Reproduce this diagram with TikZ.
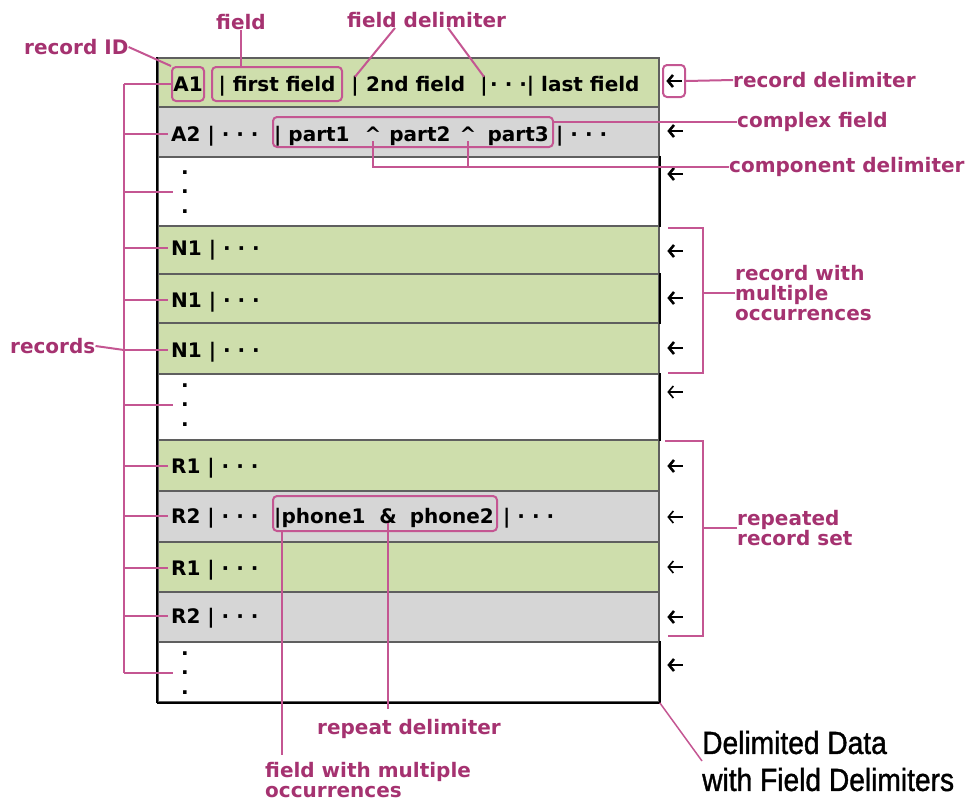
\documentclass[tikz,border=0pt]{standalone}
\usepackage{fontspec}
\usepackage{xcolor}
\usepackage{tikz}
\usetikzlibrary{arrows.meta}
\newfontfamily\dejavu{DejaVu Sans}
\newfontfamily\arialike[FakeStretch=0.88, FakeBold=1.2]{Liberation Sans}
\newcommand{\lblfont}{\dejavu\bfseries\fontsize{20}{20}\selectfont}
\definecolor{lblpink}{RGB}{165,50,112}
\definecolor{linepink}{RGB}{196,86,146}
\definecolor{rowgreen}{RGB}{206,222,172}
\definecolor{rowgray}{RGB}{214,214,214}
\definecolor{sepgray}{RGB}{95,95,95}

\begin{document}
\begin{tikzpicture}[x=1pt, y=-1pt,
  row/.style={draw=sepgray, line width=1.5pt, fill=#1, minimum width=501pt, inner sep=0pt},
  row/.default=white,
  txt/.style={font=\lblfont, inner sep=0pt, text height=14pt, text depth=0pt},
  rid/.style={txt, anchor=base west, inner xsep=3pt},
  hbox/.style={draw=linepink, line width=2pt, rounded corners=4pt, inner sep=0pt},
  lbl/.style={font=\lblfont, text=lblpink, inner sep=0pt, align=left},
  conn/.style={draw=linepink, line width=2pt},
  arrline/.style={line width=#1, -{Straight Barb[length=5pt, width=12pt]}},
  arrline/.default=2.6pt,
  arr/.style={minimum width=15pt, minimum height=12pt, inner sep=0pt,
              append after command={(\tikzlastnode.east) edge[arrline=#1] (\tikzlastnode.west)}},
  arr/.default=2.6pt,
  vdots/.style={font=\dejavu\bfseries\fontsize{20}{19.5}\selectfont, align=center,
                inner xsep=8pt, inner ysep=0pt},
]
\useasboundingbox (0,0) rectangle (979,801);

% Строки таблицы
\node[row=rowgreen, minimum height=49pt] (row1) at (408.5,82.5) {};
\node[row=rowgray,  minimum height=50pt] (row2) at (408.5,132) {};
\node[row,          minimum height=69pt] (row3) at (408.5,191.5) {};
\node[row=rowgreen, minimum height=48pt] (row4) at (408.5,250) {};
\node[row=rowgreen, minimum height=49pt] (row5) at (408.5,298.5) {};
\node[row=rowgreen, minimum height=51pt] (row6) at (408.5,348.5) {};
\node[row,          minimum height=66pt] (row7) at (408.5,407) {};
\node[row=rowgreen, minimum height=51pt] (row8) at (408.5,465.5) {};
\node[row=rowgray,  minimum height=51pt] (row9) at (408.5,516.5) {};
\node[row=rowgreen, minimum height=50pt] (row10) at (408.5,567) {};
\node[row=rowgray,  minimum height=50pt] (row11) at (408.5,617) {};
\node[row,          minimum height=60pt] (row12) at (408.5,672) {};
\draw[line width=1.6pt] (row1.north west) -- (row12.south west);
\draw[line width=2.4pt] (row12.south west) -- (row12.south east);
\draw[line width=1.6pt] (row3.north east) -- (row3.south east)
  (row5.north east) -- (row5.south east)
  (row7.north east) -- (row7.south east)
  (row12.north east) -- (row12.south east);

% Запись A1
\node[hbox, txt, minimum width=32pt, minimum height=34pt] (a1) at (188,84) {A1};
\node[hbox, txt, minimum width=130pt, minimum height=34pt] (ff) at (277,84) {| first field};
\node[txt, anchor=base] (bar1) at (355,91) {|};
\node[txt, anchor=base west] (snd) at (366,91) {2nd field};
\node[txt, anchor=base] (bar2) at (484,91) {|};
\node[txt, anchor=base west] (lastf) at (490,91) {· · ·| last field};

% Запись A2
\node[rid] (a2) at (168,141) {A2 | · · ·};
\node[hbox, minimum width=280pt, minimum height=30pt] (cf) at (413,132) {};
\node[txt, anchor=base west] (p1) at (274,141) {| part1};
\node[txt, anchor=base] (car1) at (373,141) {\textasciicircum};
\node[txt, anchor=base] (p2) at (420,141) {part2};
\node[txt, anchor=base] (car2) at (468,141) {\textasciicircum};
\node[txt, anchor=base east] (p3) at (549,141) {part3};
\node[txt, anchor=base west] (a2r) at (556,141) {| · · ·};

% Записи N1
\node[vdots] (d1) at (185,192) {.\\.\\.};
\node[rid] (n1) at (168,255) {N1 | · · ·};
\node[rid] (n2) at (168,307) {N1 | · · ·};
\node[rid] (n3) at (168,357) {N1 | · · ·};
\node[vdots] (d2) at (185,405) {.\\.\\.};

% Записи R1/R2
\node[rid] (r1) at (168,473) {R1 | · · ·};
\node[rid] (r2) at (168,523) {R2 | · · ·};
\node[hbox, minimum width=224pt, minimum height=35pt] (mf) at (385,513.5) {};
\node[txt, anchor=base west] (ph1) at (274,523) {|phone1};
\node[txt, anchor=base] (amp) at (388,523) {\&};
\node[txt, anchor=base east] (ph2) at (494,523) {phone2};
\node[txt, anchor=base west] (r2r) at (503,523) {| · · ·};
\node[rid] (r3) at (168,575) {R1 | · · ·};
\node[rid] (r4) at (168,623) {R2 | · · ·};
\node[vdots] (d3) at (185,673) {.\\.\\.};

% Разделители записей
\node[hbox, minimum width=22pt, minimum height=32pt] (rdbox) at (674,81) {};
\node[arr] (ar1) at (674,81) {};
\node[arr] (ar2) at (675,131) {};
\node[arr] (ar3) at (675,174) {};
\node[arr] (ar4) at (675,251) {};
\node[arr] (ar5) at (675,298) {};
\node[arr] (ar6) at (675,348) {};
\node[arr=1.6pt] (ar7) at (675,392) {};
\node[arr] (ar8) at (675,466) {};
\node[arr=1.6pt] (ar9) at (675,517) {};
\node[arr=1.6pt] (ar10) at (675,567) {};
\node[arr] (ar11) at (675,617) {};
\node[arr] (ar12) at (675,665) {};

% Подписи
\node[lbl, anchor=west] (ridl) at (24,47) {record ID};
\node[lbl] (fldl) at (241,22) {field};
\node[lbl, anchor=west] (fdl) at (347,20) {field delimiter};
\node[lbl, anchor=west] (rdl) at (733,80) {record delimiter};
\node[lbl, anchor=west] (cfl) at (737,122) {complex field};
\node[lbl, anchor=west] (cdl) at (729,167) {component delimiter};
\node[lbl, anchor=west] (rmo) at (735,293) {record with\\multiple\\occurrences};
\node[lbl, anchor=west] (recl) at (10,346) {records};
\node[lbl, anchor=west] (rrs) at (737,528) {repeated\\record set};
\node[lbl] (rpl) at (409,729) {repeat delimiter};
\node[lbl, anchor=north west] (fwm) at (265,762) {field with multiple\\occurrences};
\node[anchor=west, align=left, inner sep=0pt, font=\arialike\fontsize{32}{37}\selectfont]
  (dd) at (702,761) {Delimited Data\\with Field Delimiters};

% Выноски сверху
\draw[conn] (ridl.east) -- (a1.north west);
\draw[conn] (fldl.south) -- (fldl.south |- ff.north);
\draw[conn] ([xshift=48pt]fdl.south west) -- (bar1.north);
\draw[conn] ([xshift=101pt]fdl.south west) -- (bar2.north);
\draw[conn] (rdbox.east) -- (rdl.west);
\draw[conn] (cfl.west) -- (cfl.west -| cf.east);
\draw[conn] (car1.south) |- (cdl.west);
\draw[conn] (car2.south) -- (car2.south |- cdl.west);

% Скобка records
\coordinate (rb) at (124,0);
\draw[conn] (a1.west -| rb) -- (d3.west -| rb)
  (a1.west -| rb) -- (a1.west)  (a2.west -| rb) -- (a2.west)
  (d1.west -| rb) -- (d1.west)  (n1.west -| rb) -- (n1.west)
  (n2.west -| rb) -- (n2.west)  (n3.west -| rb) -- (n3.west)
  (d2.west -| rb) -- (d2.west)  (r1.west -| rb) -- (r1.west)
  (r2.west -| rb) -- (r2.west)  (r3.west -| rb) -- (r3.west)
  (r4.west -| rb) -- (r4.west)  (d3.west -| rb) -- (d3.west);
\draw[conn] (recl.east) -- (n3.west -| rb);

% Скобки справа
\coordinate (mo1) at (668,228);
\coordinate (mo2) at (668,373);
\draw[conn] (mo1) -- ++(35,0) -- ++(0,145) -- (mo2);
\draw[conn] (rmo.west) -- ++(-32,0);
\coordinate (rs1) at (665,441);
\coordinate (rs2) at (668,636);
\draw[conn] (rs1) -- ++(38,0) -- ++(0,195) -- (rs2);
\draw[conn] (rrs.west) -- ++(-34,0);

% Выноски снизу
\draw[conn, shorten >=10pt] (amp.south) -- (amp.south |- rpl.north);
\coordinate (mfx) at ([xshift=10pt]mf.south west);
\draw[conn, shorten >=7pt] (mfx) -- (mfx |- fwm.north);
\draw[conn, line width=1.5pt] (row12.south east) -- (dd.west);
\end{tikzpicture}
\end{document}
